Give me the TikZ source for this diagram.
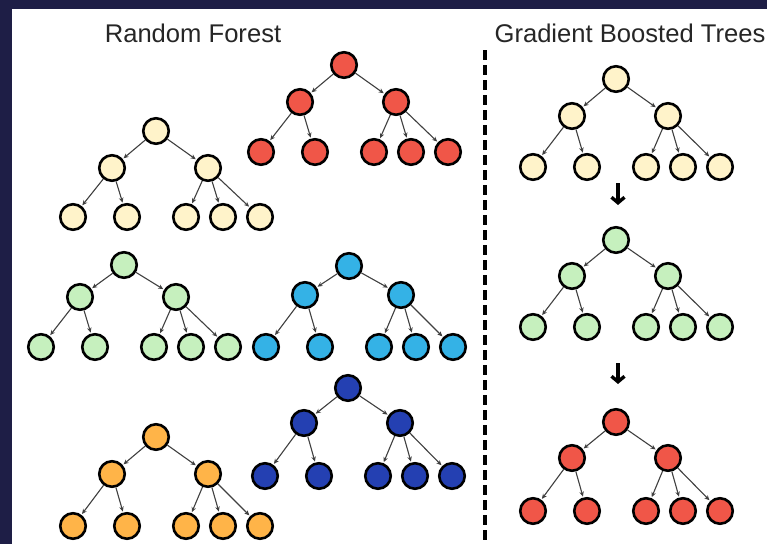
\documentclass[tikz,border=0pt]{standalone}
\usepackage{fontspec}
\setmainfont{Liberation Sans}
\usepackage{tikz}
\usetikzlibrary{arrows.meta,calc}

\definecolor{frame}{RGB}{30,30,70}
\definecolor{cream}{RGB}{255,243,202}
\definecolor{tomato}{RGB}{240,86,72}
\definecolor{mint}{RGB}{198,240,190}
\definecolor{sky}{RGB}{52,178,230}
\definecolor{amber}{RGB}{255,180,72}
\definecolor{navy}{RGB}{36,64,178}
\definecolor{title}{RGB}{38,38,38}

\tikzset{
  tnode/.style={circle,draw=black,line width=2.6pt,minimum size=25.5pt,inner sep=0pt},
  tedge/.style={draw=black!75,line width=1.1pt,-{Stealth[length=5pt,width=4.5pt]},shorten >=1pt},
  ttitle/.style={text=title,font=\fontsize{25.6}{29}\selectfont},
  nextarrow/.style={line width=3.4pt,-{Straight Barb[length=5.5pt,width=13pt]}},
  splitline/.style={line width=4pt,dash pattern=on 10pt off 5pt}
}

% #1 name, #2 #3 root, #4 fill, #5 child gap, #6 leaf gap
\newcommand{\drawtree}[6]{
  \node[tnode,fill=#4] (#1) at (#2,#3) {};
  \node[tnode,fill=#4] (#1-l) at ($(#1)+(-44,#5)$) {};
  \node[tnode,fill=#4] (#1-r) at ($(#1)+(52,#5)$) {};
  \foreach \dx [count=\i] in {-83,-29,30,67,104}
    \node[tnode,fill=#4] (#1-\i) at ($(#1)+(\dx,#6)$) {};
  \draw[tedge] (#1) -- (#1-l);
  \draw[tedge] (#1) -- (#1-r);
  \foreach \i in {1,2}
    \draw[tedge] (#1-l) -- (#1-\i);
  \foreach \i in {3,4,5}
    \draw[tedge] (#1-r) -- (#1-\i);
}

\begin{document}
\begin{tikzpicture}[x=1pt,y=-1pt]
\useasboundingbox (0,0) rectangle (767,544);
\fill[frame] (0,0) rectangle (767,544);
\fill[white] (12,9) rectangle (767,544);

\node[ttitle] (rftitle) at (193,33) {Random Forest};
\node[ttitle] (gbtitle) at (630,33) {Gradient Boosted Trees};

% random forest
\drawtree{rfa}{156}{131}{cream}{37}{86}
\drawtree{rfb}{344}{65}{tomato}{37}{87}
\drawtree{rfc}{124}{265}{mint}{32}{82}
\drawtree{rfd}{349}{266}{sky}{29}{81}
\drawtree{rfe}{156}{437}{amber}{37}{89}
\drawtree{rff}{348}{388}{navy}{35}{88}

% divider
\coordinate (divtop) at (485,50);
\coordinate (divbot) at (485,544);
\draw[splitline] (divtop) -- (divbot);

% gradient boosted trees
\drawtree{gba}{616}{79}{cream}{37}{88}
\drawtree{gbb}{616}{240}{mint}{36}{87}
\drawtree{gbc}{616}{422}{tomato}{36}{89}

\coordinate (stepa) at (618,183);
\coordinate (stepb) at (618,205);
\coordinate (stepc) at (618,363);
\coordinate (stepd) at (618,384);
\draw[nextarrow] (stepa) -- (stepb);
\draw[nextarrow] (stepc) -- (stepd);
\end{tikzpicture}
\end{document}
